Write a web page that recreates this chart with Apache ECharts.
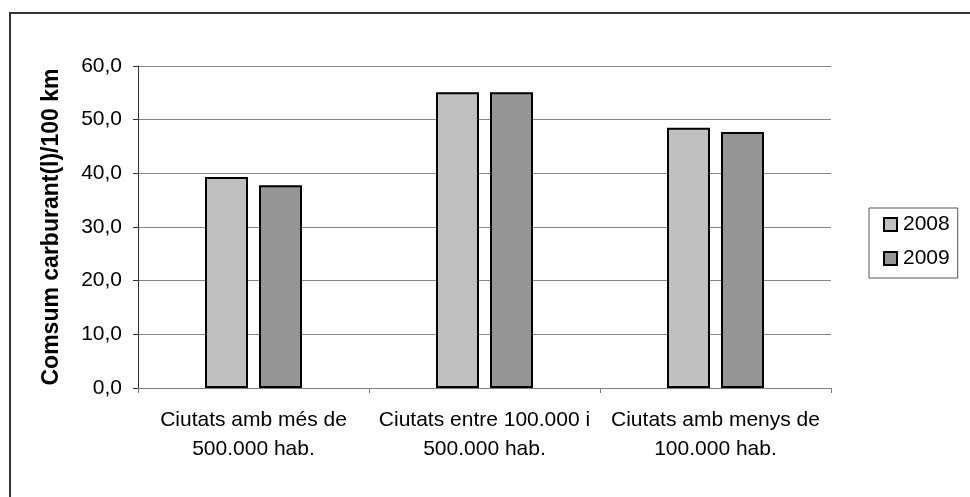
<!DOCTYPE html>
<html>
<head>
<meta charset="utf-8">
<script src="https://cdn.jsdelivr.net/npm/echarts@6/dist/echarts.min.js"></script>
<style>
  html, body { margin: 0; padding: 0; background: #fff; }
  #chart { width: 970px; height: 497px; }
</style>
</head>
<body>
<div id="chart"></div>
<script>
const categories = [
  'Ciutats amb més de\n500.000 hab.',
  'Ciutats entre 100.000 i\n500.000 hab.',
  'Ciutats amb menys de\n100.000 hab.'
];
const seriesNames = ['2008', '2009'];
const values2008 = [39.3, 55.1, 48.5];
const values2009 = [37.8, 55.1, 47.7];
const colors = ['#C0C0C0', '#969696'];

const chart = echarts.init(document.getElementById('chart'));

const barStyle = (color) => ({ color: color, borderColor: '#000', borderWidth: 2 });

chart.setOption({
  animation: false,
  textStyle: { fontFamily: 'Liberation Sans, Arial, sans-serif' },
  graphic: [{
    type: 'rect',
    shape: { x: 10, y: 13, width: 1000, height: 1000 },
    style: { fill: 'none', stroke: '#333', lineWidth: 2 },
    silent: true
  }],
  grid: { left: 138, right: 139, top: 66, bottom: 109 },
  legend: {
    orient: 'vertical',
    left: 869,
    top: 208,
    padding: [6, 8, 9, 14],
    itemGap: 13,
    itemWidth: 13,
    itemHeight: 13,
    borderColor: '#555',
    borderWidth: 1,
    icon: 'rect',
    textStyle: { fontSize: 21, color: '#000', padding: [0, 0, 0, 1] },
    data: seriesNames
  },
  xAxis: {
    type: 'category',
    data: categories,
    axisLine: { lineStyle: { color: '#808080', width: 1 } },
    axisTick: { show: true, length: 5, lineStyle: { color: '#808080' } },
    axisLabel: { fontSize: 21, color: '#000', lineHeight: 29, margin: 18, interval: 0 }
  },
  yAxis: {
    type: 'value',
    min: 0,
    max: 60,
    interval: 10,
    name: 'Comsum carburant(l)/100 km',
    nameLocation: 'middle',
    nameGap: 75,
    nameTextStyle: { fontSize: 23, fontWeight: 'bold', color: '#000' },
    axisLine: { show: true, lineStyle: { color: '#333', width: 1 } },
    axisTick: { show: true, length: 5, lineStyle: { color: '#333' } },
    axisLabel: {
      fontSize: 21,
      color: '#000',
      margin: 16,
      formatter: (v) => v.toFixed(1).replace('.', ',')
    },
    splitLine: { lineStyle: { color: '#868686', width: 1 } }
  },
  series: [
    {
      name: seriesNames[0],
      type: 'bar',
      data: values2008,
      barWidth: 43,
      barGap: '25.6%',
      itemStyle: barStyle(colors[0])
    },
    {
      name: seriesNames[1],
      type: 'bar',
      data: values2009,
      barWidth: 43,
      barGap: '25.6%',
      itemStyle: barStyle(colors[1])
    }
  ]
});
</script>
</body>
</html>
